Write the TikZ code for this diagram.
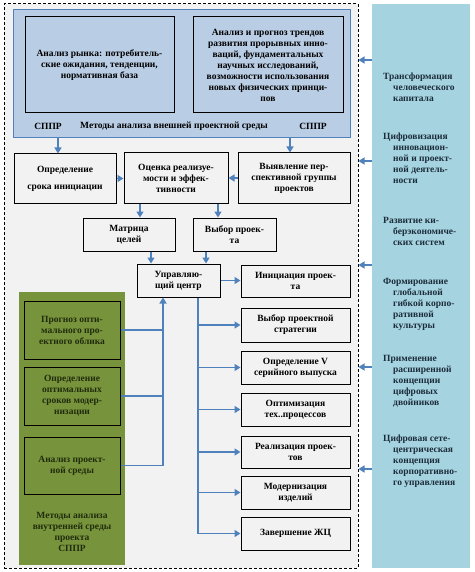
\documentclass[tikz,border=0pt]{standalone}
\usepackage{fontspec}
\setmainfont{Liberation Serif}
\usepackage{xcolor}
\usepackage{tikz}
\usetikzlibrary{arrows.meta,positioning,calc}

\definecolor{bggray}{RGB}{242,242,242}
\definecolor{extblue}{RGB}{185,205,229}
\definecolor{arrblue}{RGB}{79,129,189}
\definecolor{sideblue}{RGB}{165,211,224}
\definecolor{olive}{RGB}{119,147,60}
\definecolor{olivetext}{RGB}{32,44,12}
\definecolor{sidetext}{RGB}{28,44,58}

\newcommand\boxfont{\bfseries\fontsize{9.5}{11}\selectfont}
\newcommand\sideind{\hspace*{10pt}}

\tikzset{
  frame/.style={draw, dashed, line width=1pt, dash pattern=on 3pt off 2pt, fill=bggray},
  box/.style 2 args={draw, line width=1pt, fill=bggray, inner sep=0pt, align=center,
    font=\boxfont, minimum width=#1, minimum height=#2},
  extbox/.style 2 args={box={#1}{#2}, fill=extblue},
  greenbox/.style 2 args={box={#1}{#2}, fill=olive, text=olivetext},
  label/.style={font=\boxfont, inner sep=0pt, align=center},
  sidelabel/.style={font=\boxfont, text=sidetext, inner sep=0pt, align=left, anchor=north west},
  line/.style={draw=arrblue, line width=1.3pt},
  arr/.style={line, -{Triangle[length=6pt,width=7pt]}}
}

\begin{document}
\begin{tikzpicture}[x=1pt,y=-1pt]
  \useasboundingbox (0,0) rectangle (474,572);
  % рамка и панели
  \node[frame, minimum width=354, minimum height=564] (frame) at (181,286) {};
  \node[draw=arrblue, line width=1pt, fill=extblue, minimum width=337, minimum height=128] (ext) at (181.5,74) {};
  \node[fill=sideblue, minimum width=98, minimum height=564] (side) at (421,286) {};
  \node[fill=olive, minimum width=106, minimum height=273] (int) at (72,428.5) {};

  % внешняя среда
  \node[extbox={149}{96}] (mkt) at (99.5,65)
    {Анализ рынка: потребитель-\\ские ожидания, тенденции,\\нормативная база};
  \node[extbox={150}{96}] (trend) at (268,65)
    {Анализ и прогноз трендов\\развития прорывных инно-\\ваций, фундаментальных\\научных исследований,\\возможности использования\\новых физических принци-\\пов};
  \node[label] (sppra) at (48,126) {СППР};
  \node[label] (extname) at (174,126) {Методы анализа внешней проектной среды};
  \node[label] (spprb) at (313,126) {СППР};

  % центральная часть
  \node[box={102}{49}] (init) at (65,178.5) {Определение\\[6pt]срока инициации};
  \node[box={104}{50}] (eval) at (176,178) {Оценка реализуе-\\мости и эффек-\\тивности};
  \node[box={112}{50}] (ident) at (294,178) {Выявление пер-\\спективной группы\\проектов};
  \node[box={92}{33}] (matrix) at (129,234.5) {Матрица\\целей};
  \node[box={83}{33}] (choice) at (234.5,234.5) {Выбор проек-\\та};
  \node[box={83}{33}] (ctrl) at (178.5,280.5) {Управляю-\\щий центр};
  \node[box={109}{32}] (start) at (295.5,281) {Инициация проек-\\та};
  \node[box={109}{34}] (strat) at (295.5,325) {Выбор проектной\\стратегии};
  \node[box={109}{33}] (volume) at (295.5,367.5) {Определение V\\серийного выпуска};
  \node[box={109}{33}] (optim) at (295.5,409.5) {Оптимизация\\тех..процессов};
  \node[box={109}{32}] (impl) at (295.5,452) {Реализация проек-\\тов};
  \node[box={109}{33}] (modern) at (295.5,492.5) {Модернизация\\изделий};
  \node[box={109}{33}] (finish) at (295.5,533.5) {Завершение ЖЦ};

  % внутренняя среда
  \node[greenbox={96}{58}] (forecast) at (72,330) {Прогноз опти-\\мального про-\\ектного облика};
  \node[greenbox={96}{58}] (terms) at (72,396) {Определение\\оптимальных\\сроков модер-\\низации};
  \node[greenbox={96}{57}] (envan) at (72,465.5) {Анализ проект-\\ной среды};
  \node[label, text=olivetext] (intname) at (72,532) {Методы анализа\\внутренней среды\\проекта\\СППР};

  % тренды
  \node[sidelabel] (s1) at (383,73) {Трансформация\\\sideind человеческого\\\sideind капитала};
  \node[sidelabel] (s2) at (383,133) {Цифровизация\\\sideind инновацион-\\\sideind ной и проект-\\\sideind ной деятель-\\\sideind ности};
  \node[sidelabel] (s3) at (383,217) {Развитие ки-\\\sideind берэкономиче-\\\sideind ских систем};
  \node[sidelabel] (s4) at (383,278) {Формирование\\\sideind глобальной\\\sideind гибкой корпо-\\\sideind ративной\\\sideind культуры};
  \node[sidelabel] (s5) at (383,355) {Применение\\\sideind расширенной\\\sideind концепции\\\sideind цифровых\\\sideind двойников};
  \node[sidelabel] (s6) at (383,435) {Цифровая сете-\\\sideind центрическая\\\sideind концепция\\\sideind корпоративно-\\\sideind го управления};

  \coordinate (lft) at (58,0);
  \coordinate (rgt) at (290,0);
  \coordinate (trunk) at (198,0);
  \coordinate (feed) at (163,0);

  \draw[arr] (ext.south -| lft) -- (init.north -| lft);
  \draw[arr] (ext.south -| rgt) -- (ident.north -| rgt);
  \draw[arr] (init.east) -- (init.east -| eval.west);
  \draw[arr] (ident.west) -- (ident.west -| eval.east);
  \draw[arr] ([xshift=-36pt]eval.south) -- ([xshift=-36pt]eval.south |- matrix.north);
  \draw[arr] ([xshift=42pt]eval.south) -- ([xshift=42pt]eval.south |- choice.north);
  \draw[arr] ([xshift=22pt]matrix.south) -- ([xshift=22pt]matrix.south |- ctrl.north);
  \draw[arr] ([xshift=-28.5pt]choice.south) -- ([xshift=-28.5pt]choice.south |- ctrl.north);
  \draw[arr] (ctrl.east) -- (ctrl.east -| start.west);

  % ствол к задачам
  \draw[line] (ctrl.south -| trunk) -- (trunk |- finish);
  \foreach \b in {strat,volume,optim,impl,modern,finish}
    \draw[arr] (trunk |- \b) -- (\b.west);

  % обратная связь из внутренней среды
  \foreach \g in {forecast,terms}
    \draw[line] (\g.east) -- (feed |- \g);
  \draw[line] (envan.east) -- (feed |- envan);
  \draw[arr] (feed |- envan) -- (feed |- ctrl.south);

  \foreach \y in {60,161,265,367,469}{
    \coordinate (h) at (0,\y);
    \draw[arr] (side.west |- h) -- (frame.east |- h);
  }
\end{tikzpicture}
\end{document}
